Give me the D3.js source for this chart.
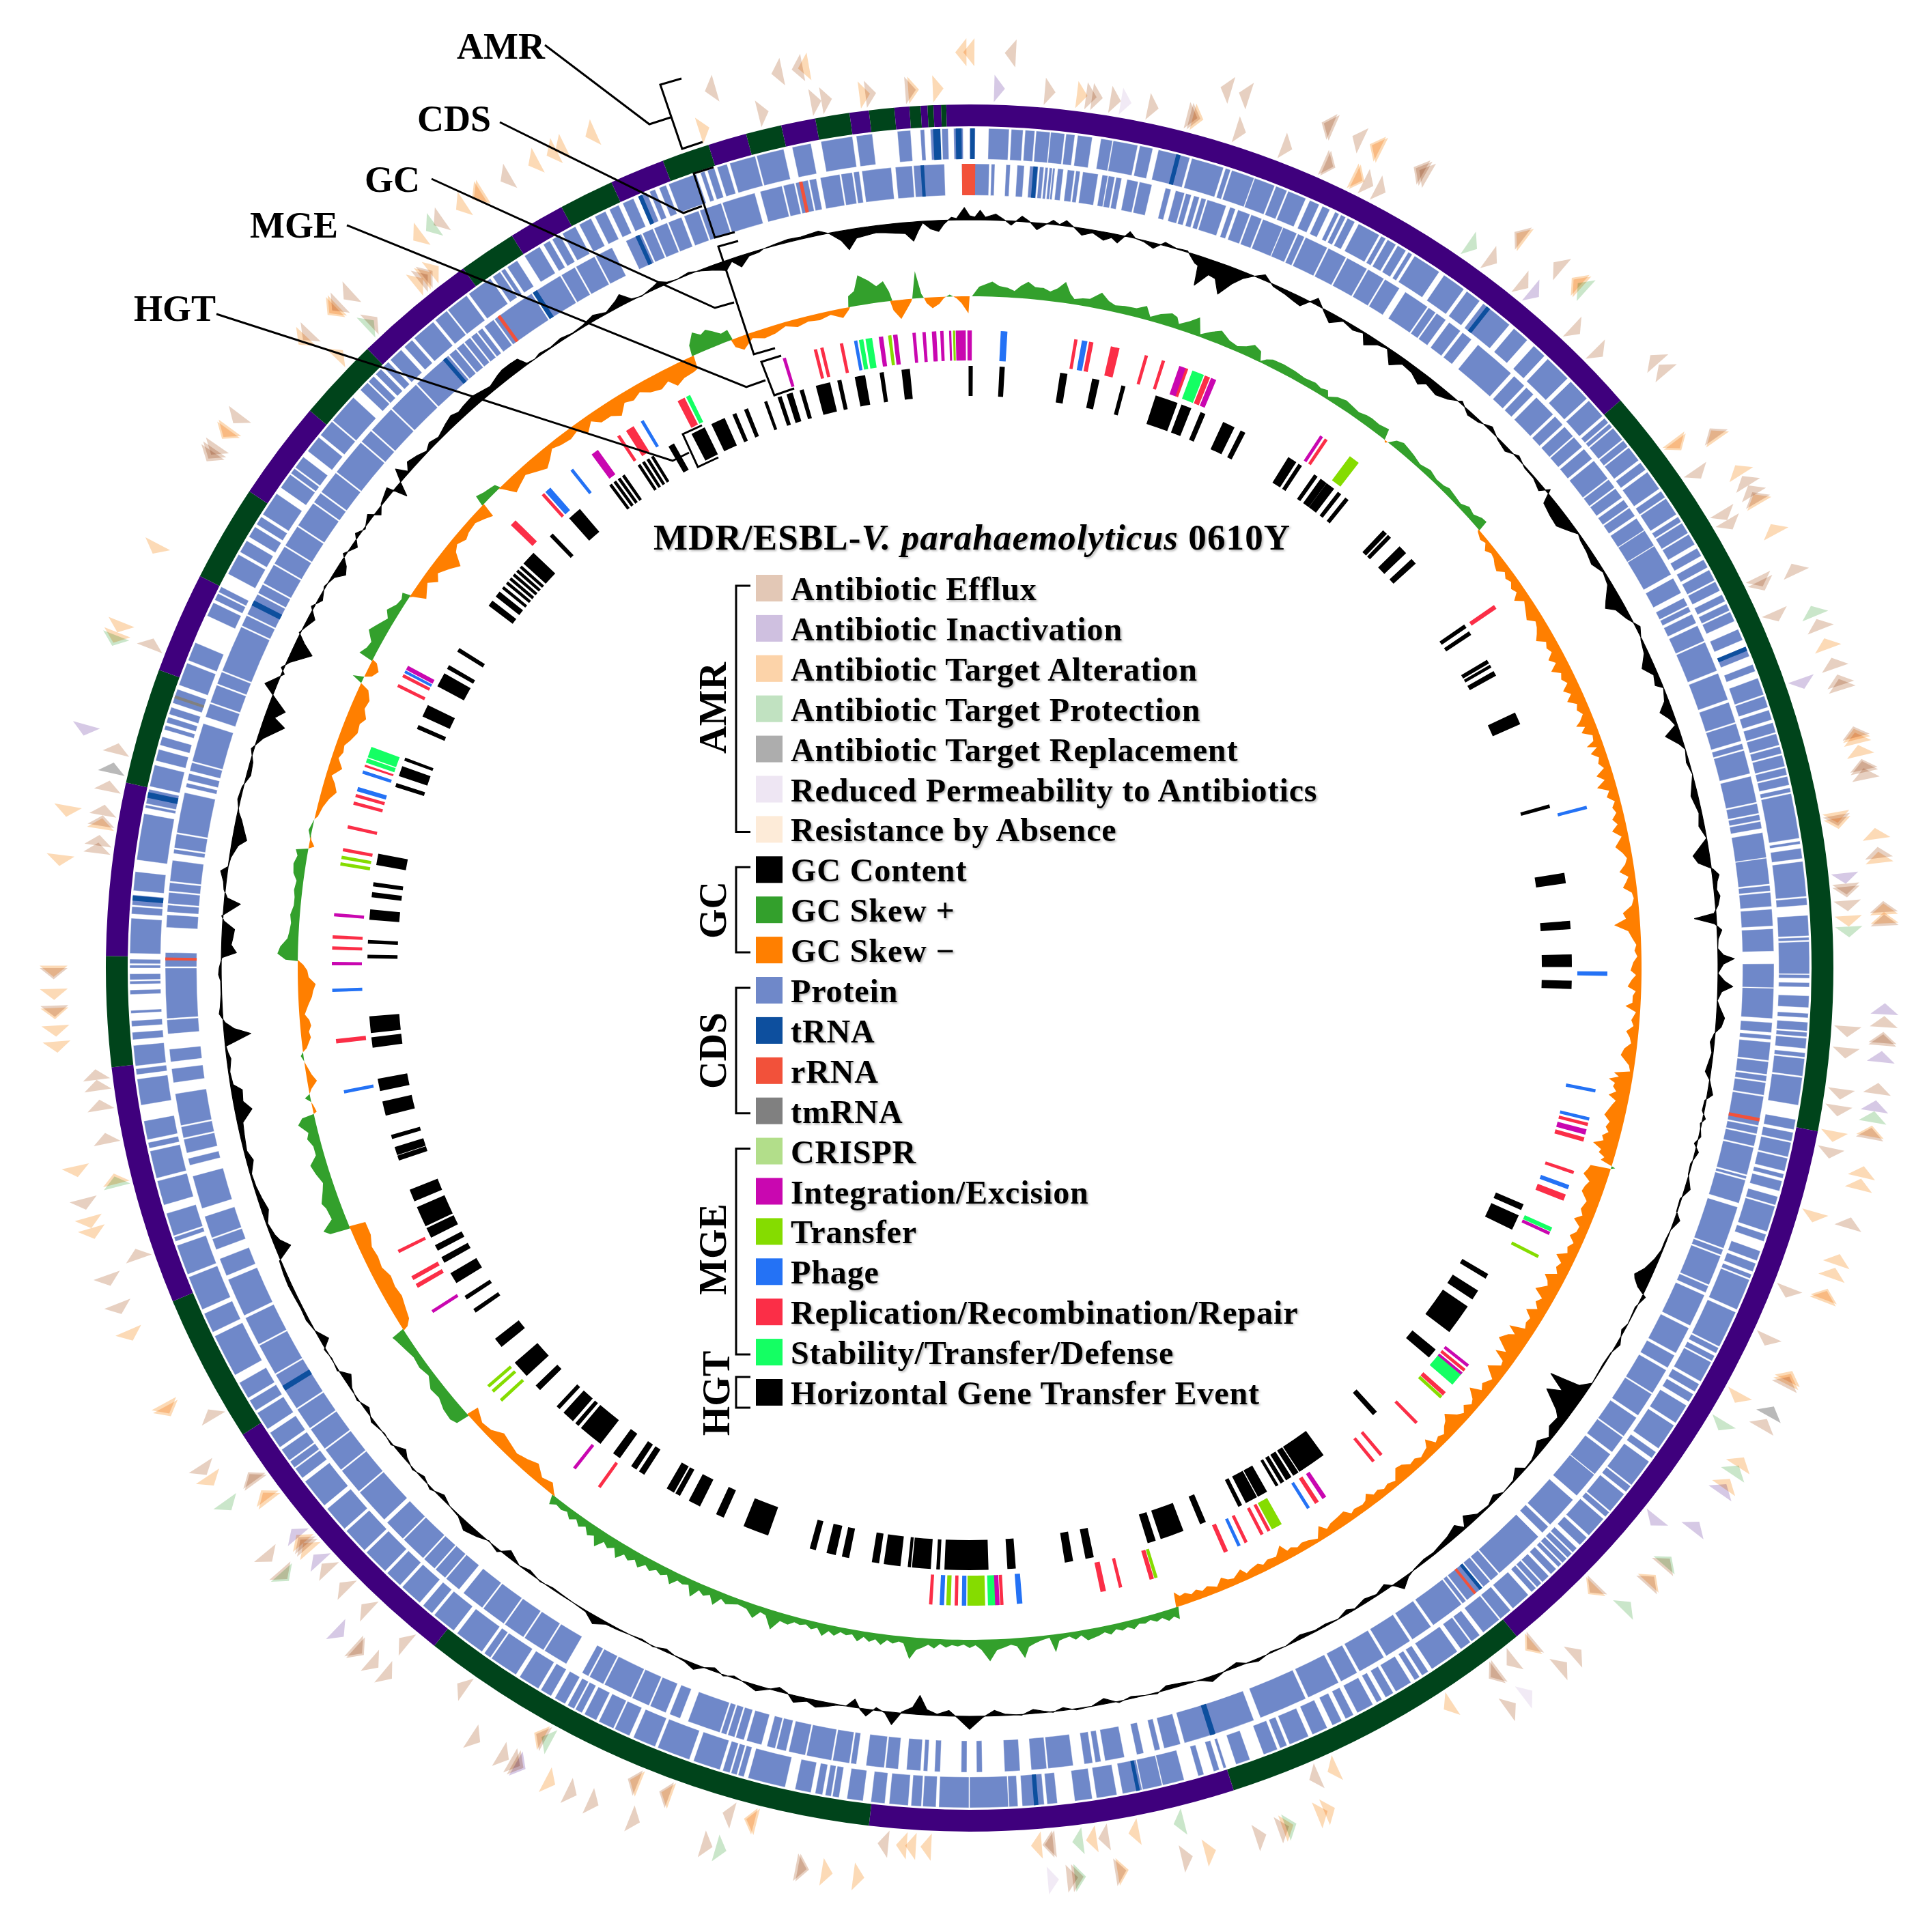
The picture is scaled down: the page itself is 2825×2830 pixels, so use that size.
<!DOCTYPE html>
<html><head><meta charset="utf-8">
<style>html,body{margin:0;background:#fff}svg{display:block}text{font-family:"Liberation Serif",serif;font-weight:bold;fill:#000}</style>
<script src="https://cdn.jsdelivr.net/npm/d3@7"></script></head><body><svg id="c" width="2825" height="2830"></svg>
<script>
// ---------- DATA (degrees clockwise from 12 o'clock) ----------
const ringBoundaries=[48.9,100.9,140.7,162.2,186.7,218.3,237.3,247.3,263.4,270.8,282.4,290.2,297,303.5,310.2,315.8,324.1,328,331.8,335.5,339.2,342.4,345,347.4,349.7,352,353.3,355,356,356.75,357.2,357.6,358.1,358.45];
const ringColors=["#3f007d","#00441b"];
const cdsOuter=[[0,.38],[1.3,2.7],[2.85,3.65],[3.8,4.45],[4.55,5.5],[5.55,6.5],[6.6,7.2],[7.4,8.4],[9,9.8],[9.85,11.55],[11.7,12.6],[13,15.2],[15.35,17.6],[17.75,18.1],[18.2,19.8],[19.85,21.3],[21.4,22.2],[22.3,23.6],[23.9,24.6],[24.85,25.4],[25.8,26.1],[26.25,26.6],[26.75,27.3],[27.6,29.2],[29.35,29.7],[29.85,30.5],[30.65,31.3],[31.5,31.8],[32,34],[34.4,36.05],[36.3,37.4],[37.7,40],[40.4,41.6],[42.2,43.2],[43.5,45.4],[45.7,47.3],[47.5,48.9],[49.1,49.5],[49.6,49.9],[50,51],[51.1,51.6],[51.7,52.8],[53,53.6],[53.8,55.2],[55.4,55.9],[56,57.3],[57.5,57.9],[58,58.8],[58.9,59.7],[60,60.6],[60.9,61.5],[61.7,62.5],[62.6,63.3],[63.6,64.1],[64.3,64.8],[64.9,65.6],[66.2,67],[67.5,68.2],[68.8,69.3],[69.8,71],[71.1,71.9],[72.1,72.8],[73,73.7],[73.8,74.6],[74.7,75.2],[75.3,76.1],[76.2,76.7],[76.8,77.4],[77.6,77.9],[78,81.1],[81.3,81.5],[81.8,82.5],[82.7,85.1],[85.2,85.7],[86.4,87.8],[87.9,88.1],[88.2,90.4],[90.45,90.7],[91,91.3],[91.9,92.7],[93.1,93.4],[93.7,94.3],[94.4,94.7],[94.8,95.5],[95.8,96.1],[96.2,97.4],[97.5,99.4],[100.4,101.1],[101.3,101.9],[102,103],[103.1,104],[104.2,104.5],[104.7,105.4],[105.8,106.4],[106.5,108.3],[108.5,109],[109.7,110.4],[110.6,111.2],[111.4,111.7],[111.8,114],[114.2,116.8],[116.9,117.3],[117.5,117.9],[118,119.5],[119.7,120.3],[120.5,121.1],[121.4,122.8],[123,124.9],[125.2,125.7],[126,128],[128.1,128.6],[128.8,130.3],[130.4,130.8],[131,132.5],[132.7,133.4],[133.7,134.1],[134.2,134.6],[134.7,135.1],[135.2,135.5],[135.7,136.2],[136.4,137],[137.1,137.5],[137.6,138],[138.3,139.7],[139.9,140.8],[140.9,142.3],[142.6,143.3],[143.4,144.2],[144.5,146.6],[146.9,147.4],[147.6,148],[148.3,149.5],[149.7,150.3],[150.6,151],[151.3,152.5],[152.8,153.4],[153.7,154.4],[154.8,155.9],[156.2,157.6],[157.8,158.3],[158.5,159.5],[160.5,161.5],[162.2,162.4],[162.7,163.1],[163.8,164.2],[165.2,166.7],[166.75,168.1],[168.15,169.5],[169.9,171.3],[171.6,172.8],[174,174.7],[174.9,176.4],[176.7,177.3],[177.35,180],[180.05,182.1],[182.3,183.2],[183.3,184],[184.2,185.5],[185.8,186.75],[187.3,188.4],[188.95,189.4],[189.5,189.9],[190.1,190.6],[190.9,192],[192.7,195.3],[195.6,196],[196.1,196.5],[196.6,197.1],[197.3,199.2],[199.5,201.8],[202,203.6],[203.9,205],[205.1,206.2],[206.4,207.3],[207.5,208],[208.1,208.6],[208.8,209.6],[209.9,210.7],[210.9,212.4],[212.7,214.7],[214.8,215.3],[215.5,217.6],[217.9,219.6],[219.8,220.6],[220.9,222.5],[222.7,223.9],[224.1,225.9],[226.1,227.9],[228.1,229.9],[230.2,232.3],[232.6,233.4],[233.5,234],[234.1,235],[235.2,236.4],[236.7,238],[238.2,239],[239.2,240.4],[241,244],[244.3,245.7],[246,248.4],[248.6,250.7],[251,251.3],[251.4,253],[253.6,255.3],[255.5,257.4],[257.6,258],[258.2,259.5],[260.6,262.4],[262.7,263.1],[263.3,264.7],[265.1,265.6],[266,266.4],[266.9,267.1],[268.2,268.5],[268.9,269.1],[269.2,269.6],[270,270.2],[270.3,270.6],[271,273.4],[273.7,274.2],[274.3,275],[275.3,276.6],[277.4,280.6],[281,281.2],[281.3,282.3],[282.5,284],[284.3,285.1],[285.4,286],[286.5,286.8],[287,287.4],[287.6,288.1],[288.4,289.4],[289.7,291.3],[291.5,292.8],[294.8,295.8],[296,296.5],[296.6,297],[298,299.5],[299.7,300.6],[300.9,301.7],[301.9,302.5],[302.7,304.4],[304.9,306],[306.1,306.5],[306.6,307.5],[308,309.2],[309.4,310.6],[310.7,312.8],[313.5,314.2],[314.3,314.8],[315,315.5],[315.7,316.2],[316.4,317.4],[317.7,318.4],[318.6,320.3],[320.5,321.5],[321.6,323.2],[323.4,325.2],[325.4,326],[326.1,326.4],[326.6,327.4],[328,329.2],[329.5,330],[330.2,330.8],[331,332],[332.3,333.2],[333.5,334.3],[334.6,335.3],[335.6,336.4],[336.8,337.4],[337.6,338],[338.3,338.8],[339,341],[341.3,341.6],[341.8,342.3],[342.5,343.2],[343.4,345.2],[345.3,347.2],[347.8,349.1],[349.8,351.97],[352.24,353.34],[355.06,355.96],[356.63,356.91],[357.32,357.72],[358.1,358.53],[358.91,359.55]];
const cdsInner=[[359.45,1.4],[1.55,1.8],[2.6,2.9],[3.4,3.9],[4.3,4.9],[5,5.3],[5.4,5.6],[5.7,5.9],[5.95,6.1],[6.3,6.7],[7,7.5],[7.6,7.9],[8.1,9.2],[9.5,9.9],[9.95,10.4],[10.5,10.9],[11.3,12.1],[12.2,13.1],[14.1,14.5],[14.85,15.5],[15.6,16],[16.2,16.6],[16.75,17.1],[17.2,18.6],[18.9,19.3],[19.5,20.4],[20.5,21.3],[21.4,22.9],[22.95,24],[24.1,24.6],[24.7,26.4],[26.5,27.9],[28,29.6],[29.7,31],[31.1,32.3],[32.8,34.7],[34.8,35.4],[35.5,36.3],[36.6,37.6],[37.8,38.6],[39.2,42.3],[42.6,43.6],[43.8,44.5],[44.8,46.5],[46.7,47.5],[47.7,48.6],[48.7,49.6],[49.8,50.7],[50.9,52.5],[52.6,53.3],[53.4,54.2],[54.4,55],[55.1,55.8],[56,57],[57.05,58.3],[58.35,60.7],[61,62.2],[62.6,63.2],[63.3,63.7],[63.9,64.6],[64.8,66],[66.1,68.3],[68.5,70.5],[70.7,72.2],[72.3,73.6],[73.8,74.2],[74.3,76],[76.2,78.1],[78.2,78.9],[79,79.4],[79.5,80],[80.3,82.1],[82.15,84],[84.1,84.5],[84.6,85.6],[85.8,87],[87.2,88.8],[89.7,91.4],[91.45,93.6],[93.9,94.6],[94.8,95.1],[95.3,96.6],[96.7,97.6],[97.7,98.1],[98.2,99.1],[99.2,101.3],[101.4,101.9],[102,102.8],[102.9,104.9],[105,105.2],[105.3,107],[107.3,110.4],[110.5,110.9],[111,113.2],[113.3,113.8],[114,116.4],[116.6,118.6],[118.8,119.8],[120,121.9],[122,123.8],[124,125.6],[125.7,127],[127.2,129],[129.05,131],[131.4,133.8],[134,134.6],[135,138.8],[138.9,139.6],[139.7,140.3],[140.4,141],[141.1,141.8],[141.9,142.2],[142.3,144.8],[145,146.6],[146.8,148.8],[149,151],[151.2,152.5],[152.7,155.1],[155.3,158.8],[159.3,164.5],[164.8,166],[166.3,166.7],[167.5,168],[168.9,170.3],[170.6,171],[171.2,171.8],[172.6,174.4],[174.5,175.6],[176.4,177.5],[179.1,179.5],[180.2,180.6],[182.1,182.5],[183,183.3],[183.5,184.5],[185.1,186],[186.1,187.4],[188.1,188.5],[188.6,189.8],[189.9,191.7],[191.8,193],[193.2,193.9],[194,194.6],[195,196.1],[196.3,196.9],[197,197.5],[197.6,198],[198.1,200.5],[201.1,201.9],[202.2,203.4],[203.5,204.8],[204.9,207],[207.1,208.2],[208.3,208.8],[210.1,211.9],[212,213.6],[213.7,215.3],[215.4,217.2],[217.3,219],[219.4,220.6],[220.7,221.6],[221.7,222.7],[222.8,224.7],[224.8,226.4],[226.7,229.3],[229.4,231.3],[231.4,233.2],[233.3,235],[235.1,236.7],[236.8,239.6],[239.7,242],[242.1,244.2],[244.4,247.2],[247.5,248.8],[249.5,250.3],[250.4,252],[252.6,255],[255.8,256.3],[256.7,257.7],[257.8,258.6],[258.7,261],[261.8,262.8],[263.3,264.2],[265.3,266.3],[266.4,270],[270.1,271.1],[272.9,273.8],[274,274.5],[274.6,275.4],[275.5,276.1],[276.2,277.7],[278.2,278.5],[278.6,279.6],[279.7,282.6],[283,283.3],[283.5,284],[284.2,284.8],[284.9,287.7],[288.2,289.2],[289.3,290.6],[290.7,291.6],[291.7,295.1],[295.2,296],[296.1,297.7],[297.8,298.5],[298.6,300.1],[300.2,301.6],[301.7,303.3],[303.4,305.3],[305.4,306.2],[306.3,308],[308.1,310.8],[310.9,311.9],[312,314],[314.1,316.5],[316.6,319.6],[319.7,320.3],[320.4,321],[321.1,321.6],[321.7,322.2],[322.3,322.7],[322.9,323.7],[323.8,327],[327.2,329.4],[329.5,330.6],[330.7,332.2],[332.3,333.6],[334.7,335.9],[336,336.8],[336.9,337.9],[338,339],[339.2,340.3],[340.4,342],[342.1,344.5],[344.9,346.5],[346.6,347.4],[347.5,348.4],[348.5,349],[349.3,350.7],[350.8,351.6],[351.7,352.1],[352.3,354.4],[354.7,355.9],[356,358.2]];
const trnaOuter=[[357.5,358],[359.05,359.45],[.05,.35],[14.25,14.55],[38,38.3],[67.5,67.8],[175.3,175.6],[168.3,168.55],[281.7,282.1],[274.6,274.95],[336.75,337.05]];
const trnaInner=[[4.55,4.85],[140.4,140.65],[162.2,162.6],[238.3,238.7],[296.8,297.2],[319.1,319.4],[327.1,327.45],[335.45,335.75],[356.5,356.75]];
const rrnaInner=[[359.45,.4],[347.75,348],[324.05,324.3],[100.75,101],[270.55,270.75],[140.95,141.15]];
const tmrnaOuter=[[288.75,288.95]];
const skewPoints=[[.2,0],[.8,14],[1.9,22],[2.5,16],[3.2,14],[3.8,10],[4.3,18],[4.9,25],[5.5,18],[6.2,18],[6.8,14],[7.4,20],[8,31],[8.5,15],[8.9,8],[9.6,11],[10.2,12],[11.1,24],[11.8,14],[12.4,10],[13.2,12],[14.2,13],[15,20],[15.5,6],[16.3,14],[17.2,20],[17.7,17],[18,8],[18.8,17],[19.5,27],[20,4],[20.8,13],[21.6,20],[22.5,11],[23.3,8],[24,13],[24.6,20],[25.3,15],[25.6,2],[26,8],[26.5,12],[27.5,13],[28.6,12],[29.6,10],[30.6,12],[31.2,9],[31.8,12],[32.1,4],[32.8,11],[33.6,14],[34.3,12],[35,10],[35.7,13],[36.2,14],[37,13],[37.9,16],[38.15,0],[38.3,-3],[38.5,0],[39,10],[39.6,14],[40.3,12],[40.9,10],[41.8,6],[42.8,10],[43.7,6],[44.5,7],[45,10],[45.8,8],[46.6,6],[47.3,12],[48,9],[48.7,15],[49.2,16],[49.35,-3],[50,-8],[50.5,-5],[51,-13],[51.5,-8],[52,-10],[52.5,-15],[53,-18],[53.5,-9],[54,-14],[54.5,-10],[55,-16],[55.5,-12],[56,-22],[56.5,-10],[57,-14],[57.5,-18],[58,-22],[58.5,-12],[59,-15],[59.5,-20],[60,-26],[60.5,-14],[61,-18],[61.5,-14],[62,-24],[62.5,-16],[63,-28],[63.5,-16],[64,-20],[64.5,-14],[65,-25],[65.5,-16],[66,-26],[66.5,-14],[67,-18],[67.5,-12],[68,-20],[68.3,-28],[68.6,-16],[69,-24],[69.5,-10],[70,-12],[70.3,-24],[70.6,-10],[71,-22],[71.5,-12],[72,-16],[72.5,-10],[73,-24],[73.5,-14],[74,-28],[74.5,-12],[75,-18],[75.5,-8],[76,-14],[76.5,-10],[77,-18],[77.5,-12],[78,-22],[78.6,-10],[79.4,-22],[80,-13],[80.5,-8],[81,-12],[81.6,-22],[82.1,-10],[82.5,-14],[83,-20],[83.5,-8],[84,-6],[84.6,-10],[85.2,-24],[85.7,-20],[86.2,-38],[86.8,-18],[87.5,-12],[88,-7],[88.5,-10],[89,-6],[89.5,-12],[90.2,-16],[90.6,-8],[91,-14],[91.6,-20],[92,-8],[92.4,-12],[93,-12],[93.3,-22],[93.8,-6],[94.5,-12],[95,-8],[95.5,-18],[96,-12],[96.5,-9],[97,-18],[97.6,-22],[98.4,-8],[98.9,-5],[99.2,-28],[99.5,-20],[99.8,-34],[100.1,-24],[100.4,-26],[100.8,-20],[101.2,-30],[101.6,-18],[102,-22],[102.5,-26],[103,-30],[103.5,-20],[104,-24],[104.4,-18],[104.8,-26],[105.2,-22],[105.6,-36],[106,-22],[106.3,-24],[106.6,-14],[106.9,-18],[107.15,0],[107.25,6],[107.4,0],[107.6,-30],[108,-32],[108.5,-36],[109,-24],[109.5,-28],[110,-30],[110.7,-18],[111.5,-22],[112,-16],[112.5,-26],[113,-14],[113.5,-15],[114,-22],[114.5,-12],[115,-18],[115.5,-14],[116,-28],[116.5,-16],[117,-20],[117.5,-14],[118,-30],[118.4,-22],[118.8,-18],[119.5,-32],[120,-16],[120.5,-22],[121,-14],[121.5,-28],[122,-16],[122.5,-18],[123,-14],[123.5,-36],[123.9,-22],[124.2,-30],[124.9,-39],[125.6,-18],[126,-32],[126.4,-14],[126.8,-12],[127.5,-28],[128.2,-10],[129,-18],[129.5,-12],[130,-28],[130.6,-14],[131,-10],[131.5,-18],[132,-10],[132.5,-16],[133.2,-30],[133.6,-22],[134,-18],[134.5,-10],[135,-14],[135.5,-10],[136,-24],[136.4,-14],[136.8,-12],[137.3,-9],[137.8,-14],[138.4,-12],[139,-20],[139.6,-22],[140.3,-8],[141,-12],[141.5,-9],[142,-14],[142.5,-12],[143,-20],[143.4,-12],[143.8,-10],[144.6,-12],[145,-9],[145.5,-18],[146.2,-16],[147,-14],[147.5,-10],[148,-20],[148.6,-5],[149.4,-10],[150,-12],[150.5,-9],[151,-14],[151.4,-12],[151.8,-24],[152.5,-12],[153.3,-14],[153.8,-10],[154.2,-15],[155,-12],[155.4,-9],[155.8,-18],[156.6,-10],[157.1,-12],[157.6,-18],[158.2,-8],[159,-14],[159.5,-10],[160,-15],[160.5,-11],[161,-16],[161.5,-14],[161.9,-22],[162.1,18],[162.5,12],[163,16],[163.5,9],[164,12],[164.5,7],[165,10],[165.5,8],[166,14],[166.5,9],[167,12],[167.5,8],[168,14],[168.5,9],[169,12],[169.5,14],[170,16],[170.5,7],[171,12],[171.5,6],[172,8],[172.4,10],[172.8,26],[173.2,4],[173.8,6],[174.5,10],[175,14],[175.4,30],[176,12],[176.5,9],[177,12],[177.7,16],[178.3,32],[179,15],[179.5,8],[180,12],[180.5,7],[181,10],[181.5,8],[182,12],[182.5,7],[183,14],[183.5,9],[184,14],[184.5,18],[185,32],[185.6,10],[186,8],[186.5,12],[187,8],[187.5,16],[188,9],[188.5,14],[189,8],[189.5,16],[190,7],[190.5,10],[191,7],[191.5,14],[192,9],[192.5,18],[193,8],[193.5,12],[194,7],[194.5,10],[195,8],[195.5,14],[196.2,12],[196.8,28],[197.5,10],[198,8],[198.5,20],[199.2,10],[200,8],[201,14],[201.5,9],[202,22],[202.5,10],[203,15],[203.5,10],[204,24],[204.5,9],[205,12],[205.5,10],[206,20],[206.5,9],[207,14],[207.5,10],[208,16],[208.5,11],[209,20],[209.5,12],[210,18],[210.5,13],[211,24],[211.5,12],[212,18],[212.5,13],[213,26],[213.5,13],[214,18],[214.5,9],[215,15],[215.5,8],[216,14],[216.5,7],[217,10],[217.6,8],[218.1,14],[218.4,-4],[219,-14],[220,-10],[221,-22],[222,-16],[223,-12],[224,-16],[225,-20],[226,-10],[227,-8],[228.2,-18],[228.4,20],[229,24],[230,22],[231,16],[232,18],[233,8],[234,12],[235,10],[236,14],[237,18],[237.35,20],[237.5,-8],[238,-16],[239,-20],[240,-24],[241,-22],[242,-24],[243,-18],[244,-20],[245,-18],[246,-24],[247.2,-24],[247.4,30],[247.8,38],[248.5,20],[249.5,22],[250,26],[251,18],[251.6,14],[252.5,20],[253.3,24],[254,12],[254.8,12],[255.5,18],[256,14],[256.8,26],[257.3,18],[257.45,0],[257.6,-5],[258.2,-2],[258.5,0],[258.9,8],[259.2,0],[259.6,-4],[260.2,-14],[260.8,-8],[261.4,-4],[262,0],[262.5,4],[262.8,0],[263.1,-6],[264,-14],[264.5,-12],[265,-16],[265.5,-14],[266,-8],[266.8,-14],[267.5,-20],[268,-22],[268.6,-26],[269.2,-16],[269.8,-14],[270.3,-8],[270.6,-2],[270.7,18],[271.2,30],[271.8,26],[272.5,16],[273,14],[273.8,12],[274.5,14],[275.3,10],[276,10],[276.6,12],[277.4,10],[278,16],[278.8,18],[279.5,14],[280,18],[280.25,0],[280.5,-8],[281,-2],[281.4,2],[281.8,5],[282.4,2],[282.8,0],[283.1,-4],[284,-8],[284.8,-14],[285.5,-22],[286.2,-16],[286.8,-8],[287.6,-20],[288.4,-10],[289,-14],[289.6,-12],[290.2,-18],[291,-24],[291.8,-22],[292.4,-28],[293.2,-20],[294,-22],[294.8,-14],[295.1,0],[295.4,16],[295.7,0],[296,-10],[296.6,-16],[297.2,-8],[297.35,22],[298,16],[298.6,14],[299.4,26],[300,20],[300.6,14],[301,10],[301.6,18],[302.4,10],[303,8],[303.5,12],[303.7,-4],[304.2,-22],[304.8,-16],[305.4,-10],[306,-22],[306.6,-14],[307.5,-24],[308.3,-34],[309,-16],[309.6,-10],[310.4,-16],[311,-12],[312,-10],[312.8,-16],[313.5,-22],[313.7,16],[314.4,12],[315,10],[315.5,8],[315.7,-4],[316.4,-22],[317,-18],[318,-12],[319,-20],[319.8,-26],[320.5,-18],[321.2,-8],[322,-12],[323,-14],[323.8,-10],[324.5,-22],[325.3,-10],[326,-20],[327,-20],[327.8,-28],[328.6,-14],[329.4,-18],[330.2,-12],[331,-20],[332,-24],[332.8,-18],[333.4,-30],[334.2,-24],[335.2,-22],[335.6,-20],[335.75,16],[336.4,32],[337,24],[337.5,28],[338,22],[338.6,14],[339.2,16],[339.35,-12],[340,-20],[341,-8],[342,-14],[343,-12],[344,-6],[345,-12],[346,-8],[347,-10],[348,-6],[349,-14],[349.6,-4],[349.75,16],[350.3,22],[350.8,44],[351.6,34],[352.2,24],[352.8,30],[353.2,14],[353.4,-14],[354,-28],[354.6,-14],[355,-4],[355.1,0],[355.5,40],[355.9,6],[356.1,0],[356.3,-8],[356.8,-16],[357.4,-10],[357.8,-2],[358,0],[358.3,3],[358.6,0],[358.9,-3],[359.3,-10],[359.9,-25],[360,0]];
const gcPoints=[[0,6],[.4,4],[.8,14],[1.2,4],[2,9],[2.6,2],[3.2,-6],[4,8],[4.6,1],[5.2,-10],[5.8,-2],[6.4,6],[6.9,1],[7.4,8],[8,0],[8.7,-10],[9.5,-4],[10.4,-12],[11,-6],[11.5,-12],[12.3,8],[12.8,0],[13.5,-2],[14.3,-8],[15.1,5],[16,1],[16.9,2],[17.7,-12],[18,-14],[18.2,-43],[19,-22],[19.6,-24],[20.2,-44],[21,-22],[21.6,-10],[22.2,-2],[23.1,8],[24,-3],[25,-6],[25.9,-10],[26.5,-12],[27.5,10],[28.4,-4],[29.1,-14],[30,-2],[31,-6],[31.8,-2],[32.3,-16],[33.2,-5],[34,-2],[34.8,-20],[35.6,-8],[36.6,-10],[37.5,-18],[38,-10],[39.1,-14],[40,-8],[41,4],[42,-6],[43,-3],[44,6],[45,-2],[46,-6],[47,4],[48,-2],[49,-2],[50,-8],[50.5,6],[51,-14],[52,-18],[53,-20],[54,-8],[54.5,-1],[55,-4],[56,-6],[57,-10],[58,-2],[59,-6],[60,-20],[60.5,-26],[61,-14],[62,-6],[63,6],[64,-2],[65,-6],[66,-18],[66.8,-6],[67.6,-10],[68,0],[69,-6],[69.7,-18],[70.4,-8],[71,-3],[71.6,-22],[72.5,-6],[73,0],[74,-4],[75,0],[76.6,-10],[78,-4],[79,-8],[80,0],[81.2,-24],[81.8,-18],[82.4,2],[82.9,10],[83.4,6],[84,4],[84.5,8],[85.2,4],[85.8,-3],[86.1,-32],[86.6,-3],[87.1,7],[87.8,1],[88.5,0],[89,8],[89.3,24],[89.7,8],[90.4,0],[91,10],[91.4,22],[91.8,6],[92.5,0],[93,4],[93.8,12],[94.5,8],[95,-1],[95.7,-6],[96.5,-2],[97,-4],[98,-8],[98.6,0],[99.7,8],[100.2,-2],[101,-3],[101.6,4],[102,-2],[103,3],[103.6,-4],[104.2,5],[105.2,-2],[106,-1],[107.1,8],[108,-2],[109,-1],[109.6,8],[110.5,0],[111.4,-2],[112.2,-2],[113,-6],[114,-14],[114.7,-24],[115,-21],[115.5,-12],[116,5],[117,-2],[118.4,0],[119,-4],[120.1,5],[121,-1],[122,-2],[123.7,0],[124.4,-14],[124.9,-58],[125.5,-30],[126.1,-50],[127,-20],[127.4,-12],[128.3,-14],[129,-4],[129.8,-14],[130.6,-6],[131.2,-2],[132,-1],[132.5,-12],[133.3,-2],[134.5,0],[135.2,-8],[136,-2],[137.1,-4],[138,-16],[138.5,-2],[139,-14],[140,-8],[141.6,-3],[142.5,-4],[143.5,-1],[144.2,3],[145,14],[145.5,2],[146.1,-8],[147,-2],[148,-6],[149,-1],[149.6,-6],[150.5,0],[151.5,-3],[152.5,-2],[153.7,-6],[155,0],[156.2,-2],[157.4,4],[158.3,0],[159,-6],[160,-1],[161.2,8],[162,1],[163.5,-4],[164.7,-6],[165.5,2],[166.4,0],[167.5,-3],[168.5,2],[169.6,-8],[170.6,0],[171.8,2],[172.8,-4],[173.6,1],[174.3,-2],[175.1,-6],[176,1],[177.3,-2],[178.1,-8],[179,2],[180,19],[180.9,3],[181.6,-8],[182.5,-2],[183.3,-8],[183.9,-28],[184.4,-10],[185.2,-2],[185.9,18],[186.5,2],[187.2,-4],[187.9,10],[188.4,2],[188.9,-12],[189.5,0],[190.2,1],[191,6],[191.8,10],[192.5,4],[193.5,10],[194.1,-1],[194.8,-6],[195.6,1],[196.5,8],[197.4,2],[198.4,-3],[199.2,2],[200,-5],[200.8,0],[201.5,8],[202.4,2],[203.2,0],[204,-4],[205,1],[206,-2],[207,0],[208,2],[209,3],[209.9,12],[210.8,2],[212,0],[213,-1],[213.9,-2],[215,1],[216.1,-4],[217,0],[218.2,-10],[219,4],[220,-1],[220.9,6],[222,12],[223,2],[224,0],[224.9,-6],[226,3],[227,-4],[228,2],[229,-4],[229.5,-10],[230.5,2],[231.5,-1],[232.8,4],[233.8,-6],[234.8,2],[235.8,-2],[236.7,-12],[237.5,2],[238.5,-1],[239.4,2],[240,-12],[241,0],[242,4],[243,3],[244,4],[245,5],[246,4],[247,2],[247.8,-22],[248.5,-10],[249,-6],[250,-2],[251,-10],[252,-6],[253,-3],[254,-2],[255,-10],[255.8,-4],[257,-6],[258,-8],[258.9,-25],[259.6,-14],[260.5,-16],[261,-4],[262,-2],[263,-6],[263.5,-3],[264,-1],[264.8,-39],[265.3,-15],[265.8,-3],[266.5,5],[267,3],[268,1],[269,1],[269.5,4],[270,3],[270.8,-1],[271.2,-22],[271.8,-14],[272.3,-16],[273,-18],[273.6,-2],[274,2],[275,-24],[275.4,-4],[276,2],[276.6,4],[277.4,10],[277.8,0],[278.5,-2],[279.5,-10],[280,-21],[280.8,-14],[281.5,-8],[282,-2],[283,4],[284,2],[285,-6],[286,-4],[287,4],[288,-8],[289.3,-33],[289.8,-14],[290.5,-26],[291.2,-6],[292,17],[292.5,8],[293.2,-4],[293.6,4],[294.2,-4],[295.4,-30],[296,-12],[296.6,2],[297.2,-3],[298,-10],[298.8,4],[299.6,-6],[300.6,2],[301.6,-4],[302.2,-16],[302.8,-10],[303.5,4],[304.5,-8],[305.3,6],[306,-2],[307,8],[307.6,-8],[308.3,2],[309.5,10],[310,-20],[310.4,-4],[311,18],[311.5,2],[312,12],[312.8,8],[313.6,2],[314.2,8],[315,4],[316,10],[316.8,14],[317.4,10],[318,12],[319,14],[320,10],[320.5,8],[321.5,14],[322,16],[322.6,16],[323.4,15],[323.8,2],[324.5,0],[325,3],[326,1],[327,4],[328,1],[329,3],[330,8],[331,2],[332,10],[332.5,16],[333.2,2],[334,-1],[335,4],[335.6,8],[336.2,2],[337,0],[338,3],[339,-2],[340,-8],[340.8,-14],[341.4,-4],[342,-16],[342.8,-4],[343.6,-3],[344,0],[345,2],[346,4],[347,3],[348.4,6],[349.2,-1],[350,-14],[350.5,-29],[351.2,-14],[352,-12],[352.8,-10],[353.5,-12],[354.2,-14],[355,-16],[355.6,-28],[356,-14],[356.4,-2],[357,-12],[357.6,-16],[358,-6],[358.6,4],[359,2],[359.6,18],[360,6]];
// mobile genetic elements: [centre degree, width degree]
const mgePhage=[[3.1,.6],[10.4,.5],[75.4,.3],[90.5,.4],[101.1,.3],[103.7,.3],[110.1,.4],[147.9,.3],[155,.3],[175.5,.5],[180.5,.4],[182.5,.4],[258.8,.3],[268,.3],[286.3,.4],[287.9,.3],[297.7,.25],[318.6,.6],[321.4,.3],[329.1,.3],[349.7,.3]];
const mgeReplication=[[9.6,.3],[11,.4],[13.2,.8],[16.1,.3],[17.7,.3],[19.9,.3],[21.9,.5],[34,.3],[55.5,.4],[104.2,.3],[105.6,.4],[108.7,.3],[111.1,.6],[129.1,.3],[131.9,.4],[135.5,.3],[139.8,.3],[140.7,.3],[147,.4],[152,.3],[152.7,.3],[154.3,.3],[156.3,.4],[163.4,.4],[166.3,.3],[167.9,.5],[177.1,.3],[181.2,.3],[183.5,.3],[215.5,.3],[240.1,.4],[240.9,.4],[243.6,.3],[263.4,.4],[271.8,.3],[272.8,.3],[280.7,.3],[282.8,.3],[285,.3],[285.7,.3],[288.5,.2],[296.3,.3],[297.3,.3],[314.3,.6],[318,.3],[326.6,.3],[327.8,.8],[333.1,.7],[346,.3],[346.6,.3],[348.4,.3]];
const mgeIntegration=[[359.2,.9],[0,.4],[19.5,.6],[22.5,.5],[33.5,.3],[104.9,.5],[114.6,.3],[128.6,.3],[129.5,.25],[146.2,.4],[177.5,.4],[218.3,.3],[237.4,.3],[270.4,.3],[274.8,.3],[298.1,.4],[324,.7],[343.1,.3],[352,.4],[353.3,.4],[355,.3],[355.9,.3],[356.8,.4],[357.5,.3],[358.25,.2]];
const mgeTransfer=[[37.1,1],[116.9,.3],[132.3,.3],[151.2,1],[163,.3],[179.4,1.6],[181.9,.4],[227.3,.3],[228.4,.3],[229,.3],[279.4,.3],[280,.3],[352.8,.3],[358.6,.2]];
const mgeStability=[[21,1.1],[114.2,.4],[130.1,1.4],[178,.7],[289,.4],[289.8,1],[333.8,.4],[350.2,.4],[350.9,.6]];
const hgtBlocks=[[0.1,.4],[3.1,.5],[9,.7],[12.1,.7],[14.8,.4],[19.1,2.2],[21.1,1],[22.8,.5],[25.5,1.2],[27,.5],[32.4,.9],[33.3,.4],[35.1,.4],[36,.7],[36.8,.9],[37.9,.4],[38.8,.4],[43.6,.5],[44.2,.4],[46,.9],[47.5,.6],[55.4,.4],[56.2,.4],[59.4,.4],[59.9,.3],[60.7,.5],[65.5,1.2],[74.4,.35],[81.4,1],[85.9,.8],[89.3,1.2],[91.6,.8],[113.4,.6],[115,1.5],[120.8,.5],[122.9,1],[125.7,3],[129.8,1],[137.7,.5],[145.4,2.8],[147.2,.6],[148,.6],[148.7,.4],[149.3,.3],[150.9,1],[152.1,1.2],[153.3,.4],[157.2,.6],[159.8,1.2],[160.9,1.2],[162.4,.8],[168.5,.8],[170.5,.8],[176,.8],[180.3,4.2],[183,.35],[184.6,1.8],[185.75,.3],[187.4,1.6],[189,.7],[191.9,.7],[193.3,.9],[195.1,.6],[200.7,2.3],[201.9,.3],[204.5,.8],[207.2,1.2],[209,.5],[209.8,.8],[213,.6],[213.9,.6],[215.9,.8],[219,2.4],[220.7,.4],[221.8,1.2],[223.1,.4],[225.8,.6],[228.2,1.7],[231.5,1],[235.3,.4],[236.8,.4],[239,1.1],[241,.6],[242.3,.6],[243.9,1],[245.6,2],[247.8,1.2],[251.6,.5],[252.3,.8],[253.7,.4],[256.5,1.4],[258.8,1.2],[262.9,1],[264.6,1.6],[271.1,.35],[272.5,.35],[275.1,1],[277,.5],[278,.4],[280.4,1.1],[287.7,.4],[289.1,1],[290.3,.3],[293.6,.4],[295.3,1.2],[298.6,1.4],[300,.4],[301.9,.4],[307.3,.6],[308.4,.6],[309.2,.3],[309.8,.3],[310.3,.3],[310.8,.3],[311.3,.3],[311.8,.3],[312.9,1.4],[316,.4],[319,1.35],[323.4,.3],[323.9,.3],[324.4,.3],[324.9,.3],[326.7,.3],[327.2,.3],[327.7,.3],[328.2,.3],[330.3,.6],[333.2,1.4],[335.3,1.4],[337,.4],[338.2,.4],[340.2,.3],[341.6,.4],[342.6,.6],[343.8,.4],[345.9,1.4],[347.5,.4],[349.5,1],[351.6,.4],[353.9,.8]];
// AMR genes: [degree, resistance class]; E efflux, I inactivation, A alteration, P protection, R replacement, B permeability
const amrInner=[[1.6,"I"],[4.9,"E"],[7,"A"],[7.6,"E"],[8,"E"],[9.2,"E"],[9.9,"B"],[11.7,"E"],[14.3,"E"],[14.5,"E"],[14.7,"A"],[17.6,"E"],[20.8,"E"],[23.7,"E"],[23.85,"E"],[25.8,"A"],[25.95,"A"],[26.6,"E"],[27.5,"E"],[34.5,"P"],[36.1,"E"],[38.7,"E"],[39.6,"I"],[43.2,"E"],[45.3,"E"],[53.1,"A"],[53.25,"A"],[55.5,"E"],[58.7,"E"],[59.4,"E"],[63.6,"E"],[63.9,"E"],[66.1,"E"],[70.8,"I"],[79.8,"A"],[80,"E"],[80.2,"A"],[83.8,"I"],[84.5,"E"],[84.7,"E"],[85.6,"E"],[86.6,"A"],[87.3,"P"],[93.8,"E"],[95.2,"E"],[97.9,"E"],[99,"E"],[100.7,"A"],[101.8,"E"],[106.1,"A"],[111.3,"E"],[114.7,"E"],[118.9,"A"],[121,"P"],[128.6,"I"],[134.5,"E"],[134.65,"A"],[140,"E"],[140.15,"A"],[141.7,"E"],[143,"E"],[143.15,"E"],[146.7,"A"],[155.3,"A"],[156.6,"E"],[165.9,"P"],[168.9,"A"],[170.9,"E"],[171.7,"A"],[172.6,"P"],[174.4,"E"],[174.55,"E"],[175.3,"A"],[182.5,"A"],[183.5,"A"],[184.1,"A"],[185.3,"E"],[194,"A"],[194.15,"A"],[195.6,"E"],[199.8,"A"],[199.95,"E"],[202,"A"],[202.15,"E"],[208.4,"P"],[208.8,"E"],[208.95,"A"],[214.9,"E"],[219.7,"E"],[223,"E"],[225,"E"],[226.7,"E"],[227.5,"I"],[228.5,"A"],[228.8,"E"],[229,"E"],[229.2,"A"],[229.7,"I"],[232.7,"A"],[232.9,"A"],[234.2,"E"],[234.35,"E"],[239.2,"E"],[250.7,"E"],[255.6,"P"],[255.8,"A"],[258.5,"E"],[260.7,"E"],[262,"E"],[262.7,"E"],[277.5,"E"],[278,"E"],[279.1,"A"],[279.3,"E"],[280,"E"],[281.6,"E"],[282.8,"R"],[284.1,"E"],[291.3,"E"],[313.9,"A"],[316.7,"P"],[317,"E"],[320.9,"A"],[321.7,"E"],[322.2,"A"],[321.55,"A"],[342.1,"A"],[346.1,"E"],[349.6,"E"],[350.3,"E"],[352.8,"A"],[353.2,"E"],[355.8,"E"],[356,"A"],[357.6,"A"],[321.3,"E"]];
const amrOuter=[[.3,"A"],[359.8,"A"],[2.9,"E"],[349.5,"E"],[349.9,"A"],[348.2,"E"],[343.9,"E"],[335.9,"A"],[333.8,"A"],[333.2,"A"],[331.9,"A"],[329.9,"E"],[327.8,"A"],[327.95,"A"],[326.6,"A"],[324.9,"E"],[324.3,"P"],[323.3,"A"],[16.6,"E"],[17.8,"E"],[23.3,"E"],[23.45,"E"],[25.4,"E"],[26.6,"A"],[26.75,"A"],[29.7,"E"],[29.85,"E"],[30.1,"E"],[37.2,"E"],[37.35,"A"],[40.3,"E"],[41.8,"A"],[41.95,"A"],[42.3,"P"],[48.7,"E"],[49.5,"E"],[54.6,"E"],[54.75,"A"],[57.4,"A"],[58.2,"E"],[58.9,"E"],[59.4,"E"],[59.55,"A"],[61.7,"A"],[64.5,"E"],[67.4,"P"],[68.3,"E"],[69.6,"A"],[70.9,"E"],[72,"E"],[72.3,"E"],[75.4,"E"],[75.55,"A"],[75.8,"A"],[76.6,"A"],[77.5,"E"],[77.65,"E"],[78.1,"E"],[81.9,"A"],[83.1,"E"],[83.4,"A"],[86.5,"E"],[86.65,"A"],[87.2,"A"],[87.35,"E"],[92.9,"I"],[93.7,"E"],[94.7,"E"],[94.85,"E"],[95.9,"I"],[97.9,"E"],[99,"I"],[99.7,"P"],[100.6,"A"],[100.75,"E"],[103.2,"A"],[104,"A"],[106.5,"E"],[108.9,"A"],[109.8,"A"],[111.2,"A"],[111.35,"A"],[116.8,"A"],[117,"A"],[117.2,"E"],[119.3,"R"],[120.2,"E"],[123,"A"],[123.6,"P"],[124.6,"A"],[125,"I"],[127.9,"I"],[130.7,"P"],[130.85,"E"],[132.2,"A"],[132.35,"E"],[134.5,"P"],[138.8,"E"],[140,"E"],[142.8,"B"],[144.1,"E"],[157.2,"A"],[157.7,"A"],[159.8,"P"],[160,"A"],[160.3,"E"],[161.8,"E"],[165.1,"A"],[166.6,"E"],[170.7,"A"],[170.85,"E"],[173.4,"P"],[173.55,"E"],[173.9,"E"],[175.1,"B"],[187.3,"A"],[189.3,"A"],[190.8,"E"],[190.95,"E"],[196.1,"P"],[197,"E"],[201.8,"E"],[204.6,"E"],[206.1,"E"],[207.6,"A"],[209.7,"I"],[209.85,"E"],[210.1,"E"],[210.9,"E"],[213,"E"],[219.8,"E"],[220.9,"E"],[222.1,"E"],[222.25,"E"],[223.8,"I"],[228.7,"P"],[228.85,"E"],[230.3,"E"],[234.4,"P"],[236.3,"A"],[237.1,"E"],[241.4,"A"],[241.6,"A"],[246.7,"A"],[248.5,"E"],[250.4,"E"],[253.5,"A"],[254.2,"A"],[255.4,"E"],[257.5,"A"],[265.4,"A"],[266.4,"A"],[267.5,"A"],[267.65,"E"],[268.7,"A"],[270,"E"],[270.15,"A"],[277.1,"A"],[280.2,"A"],[285.4,"I"],[291.3,"P"],[291.5,"A"],[292.2,"A"],[297.6,"A"],[304.3,"E"],[304.5,"E"],[304.8,"E"],[306,"A"],[306.15,"A"],[307.2,"E"],[313.6,"A"],[314,"E"],[316.2,"A"],[316.35,"A"],[316.6,"E"],[317.6,"E"]];
const amrTypes={E:"#e3c8b6",I:"#cfc0e0",A:"#fcd3a9",P:"#c1e2c1",R:"#adadad",B:"#eee6f3",S:"#fdebd8"};
// legend
const legendLabels=["Antibiotic Efflux","Antibiotic Inactivation","Antibiotic Target Alteration","Antibiotic Target Protection","Antibiotic Target Replacement","Reduced Permeability to Antibiotics","Resistance by Absence","GC Content","GC Skew +","GC Skew \u2212","Protein","tRNA","rRNA","tmRNA","CRISPR","Integration/Excision","Transfer","Phage","Replication/Recombination/Repair","Stability/Transfer/Defense","Horizontal Gene Transfer Event"];
const legendColors=["#e3c8b6","#cfc0e0","#fcd3a9","#c1e2c1","#adadad","#eee6f3","#fdebd8","#000000","#33a02c","#ff7f00","#6f88c9","#0d4f9e","#f2513a","#808080","#b2de8a","#c907b0","#85dc00","#2472f5","#fb2e47","#14ff63","#000000"];
const groupLabels=["AMR","GC","CDS","MGE","HGT"];
const groupSpans=[[0,6],[7,9],[10,13],[14,19],[20,20]];
const calloutLabels=["AMR","CDS","GC","MGE","HGT"];

// ---------- DRAWING ----------
const svg=d3.select("#c");
const defs=svg.append("defs");
defs.append("filter").attr("id","sh").attr("x","-5%").attr("y","-20%").attr("width","110%").attr("height","140%")
 .append("feDropShadow").attr("dx",2).attr("dy",2).attr("stdDeviation",1.6).attr("flood-color","#000").attr("flood-opacity",.3);
const cx=1420,cy=1418;
const root=svg.append("g").attr("transform",`translate(${cx},${cy})`);
const ang=d3.scaleLinear().domain([0,360]).range([0,2*Math.PI]);
const arc=d3.arc();
const seg=(s,e,r0,r1)=>{if(e<s)e+=360;return arc({innerRadius:r0,outerRadius:r1,startAngle:ang(s),endAngle:ang(e)});};
// outer ring
const rb=[0,...ringBoundaries,360];
root.append("g").selectAll("path").data(d3.pairs(rb)).join("path")
 .attr("d",d=>seg(d[0],d[1],1233,1265)).attr("fill",(d,i)=>ringColors[i%2]);
// CDS
function track(list,r0,r1,color,sw){root.append("g").selectAll("path").data(list).join("path").attr("d",d=>seg(d[0],d[1],r0,r1)).attr("fill",color).attr("stroke",sw?"#fff":"none").attr("stroke-width",sw||0);}
const protein="#6f88c9";
track(cdsOuter,1185,1230,protein,.4);track(trnaOuter,1185,1230,"#0d4f9e");track(tmrnaOuter,1185,1230,"#808080");
track(cdsInner,1132,1178,protein,.4);track(trnaInner,1132,1178,"#0d4f9e");track(rrnaInner,1132,1178,"#f2513a");
// GC content
const gcR=d3.scaleLinear().domain([-100,100]).range([996,1196]);
const closeLoop=a=>[...a,[a[0][0]+360,a[0][1]]];
const gcArea=d3.areaRadial().angle(d=>ang(d[0])).innerRadius(gcR(0)).outerRadius(d=>gcR(d[1]));
root.append("path").attr("d",gcArea(closeLoop(gcPoints))).attr("fill","#000").attr("stroke","#000").attr("stroke-width",1.2).attr("stroke-linejoin","round");
// GC skew
const skR=d3.scaleLinear().domain([-100,100]).range([884,1084]);
const skewArea=d3.areaRadial().angle(d=>ang(d[0])).innerRadius(skR(0)).outerRadius(d=>skR(d[1]));
root.append("path").attr("d",skewArea(skewPoints.map(d=>[d[0],Math.max(0,d[1])]))).attr("fill","#33a02c");
root.append("path").attr("d",skewArea(skewPoints.map(d=>[d[0],Math.min(0,d[1])]))).attr("fill","#ff7f00");
// MGE, HGT
const cw=d=>[d[0]-d[1]/2,d[0]+d[1]/2];
[[mgeTransfer,"#85dc00"],[mgeStability,"#14ff63"],[mgePhage,"#2472f5"],[mgeReplication,"#fb2e47"],[mgeIntegration,"#c907b0"]]
 .forEach(([l,c])=>track(l.map(cw),890,934,c));
track(hgtBlocks.map(cw),838,882,"#000");
// AMR triangles
const tri=d3.lineRadial().angle(d=>ang(d[0])).radius(d=>d[1]).curve(d3.curveLinearClosed);
const triG=root.append("g").style("isolation","isolate");
function amr(list,r0,r1,dir){triG.append("g").selectAll("path").data(list).join("path")
 .attr("d",d=>tri([[d[0],r0],[d[0],r1],[d[0]+dir*.7,(r0+r1)/2]]))
 .attr("fill",d=>amrTypes[d[1]]).attr("fill-opacity",.85).style("mix-blend-mode","multiply");}
amr(amrInner,1269,1309,1);amr(amrOuter,1321,1362,-1);
// legend
const leg=svg.append("g");
const ly=i=>842+58.9*i;
leg.selectAll("rect").data(legendLabels).join("rect").attr("x",1107).attr("y",(d,i)=>ly(i)).attr("width",39).attr("height",39).attr("fill",(d,i)=>legendColors[i]);
leg.append("g").attr("filter","url(#sh)").selectAll("text").data(legendLabels).join("text").attr("x",1158).attr("y",(d,i)=>ly(i)+37).attr("font-size",48).attr("letter-spacing",.9).text(d=>d);
const title=svg.append("text").attr("x",957).attr("y",805).attr("font-size",53).attr("letter-spacing",1.1).attr("filter","url(#sh)");
title.append("tspan").text("MDR/ESBL-");title.append("tspan").attr("font-style","italic").text("V. parahaemolyticus");title.append("tspan").text(" 0610Y");
// group brackets
const bX=1078;
groupLabels.forEach((g,i)=>{const [a,b]=groupSpans[i];const y0=ly(a)+(i==4?-3:16),y1=ly(b)+(i==4?42:23);
 svg.append("path").attr("d",`M1099,${y0}H${bX}V${y1}H1099`).attr("fill","none").attr("stroke","#000").attr("stroke-width",3);
 const yc=[1037,1333,1539,1830,2041][i];
 svg.append("text").attr("transform",`translate(${i==4?1068:1063},${yc}) rotate(-90)`).attr("text-anchor","middle").attr("font-size",56).text(g);});
// callouts
const calloutPos=[[669,86],[611,192],[534,281],[366,348],[196,470]];
svg.append("g").selectAll("text").data(calloutLabels).join("text").attr("x",(d,i)=>calloutPos[i][0]).attr("y",(d,i)=>calloutPos[i][1]).attr("font-size",54).text(d=>d);
const leader=[
 [[798,66],[951,182],[982,172]],[[732,179],[1001,312],[1028,302]],[[632,262],[1047,451],[1075,443]],[[508,330],[1093,567],[1121,557]],[[317,460],[985,675],[1009,663]]];
const braces=[
 [[998,115],[967,124],[999,218],[1029,208]],[[1045,245],[1016,254],[1047,348],[1076,340]],[[1081,353],[1052,361],[1104,519],[1135,510]],[[1144,521],[1115,530],[1134,579],[1163,569]],[[1028,623],[1000,636],[1022,684],[1052,670]]];
const ln=d3.line();
svg.append("g").selectAll("path").data([...leader,...braces]).join("path").attr("d",d=>ln(d)).attr("fill","none").attr("stroke","#000").attr("stroke-width",3);
</script></body></html>
